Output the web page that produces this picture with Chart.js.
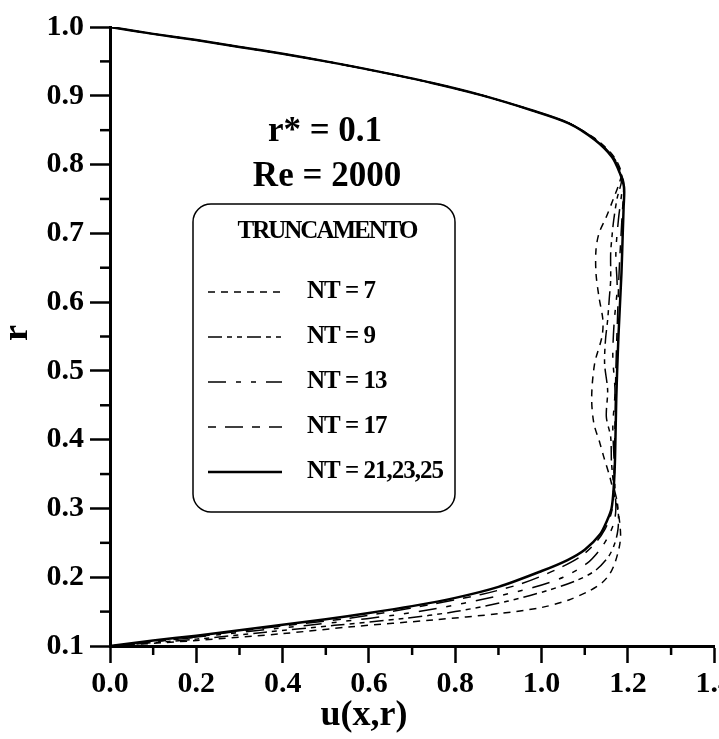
<!DOCTYPE html>
<html>
<head>
<meta charset="utf-8">
<script src="https://cdn.jsdelivr.net/npm/chart.js@4.4.0/dist/chart.umd.min.js"></script>
<style>
  html, body { margin: 0; padding: 0; background: #fff; overflow: hidden; }
  #wrap { width: 736px; height: 739px; }
</style>
</head>
<body>
<div id="wrap"><canvas id="chart"></canvas></div>
<script>
// trecho superior comum a todas as curvas (r de 1.0 a 0.86)
const rTopo = [1.0, 0.99, 0.981, 0.971, 0.961, 0.95, 0.938, 0.919, 0.901, 0.879, 0.86];
const uTopo = [0, 0.1, 0.2, 0.3, 0.4, 0.5, 0.6, 0.744, 0.86, 0.977, 1.063];

// NT = 7
const rNT7 = [0.836, 0.811, 0.788, 0.775, 0.748, 0.724, 0.70, 0.676, 0.642, 0.607, 0.574, 0.55, 0.511, 0.462, 0.424, 0.395, 0.375, 0.346, 0.32, 0.30, 0.279, 0.26, 0.244, 0.221, 0.205, 0.192, 0.18, 0.167, 0.156, 0.147, 0.138, 0.128, 0.118, 0.108, 0.1];
const uNT7 = [1.128, 1.168, 1.185, 1.181, 1.165, 1.15, 1.133, 1.126, 1.126, 1.133, 1.142, 1.14, 1.123, 1.116, 1.121, 1.135, 1.144, 1.158, 1.168, 1.176, 1.181, 1.183, 1.18, 1.17, 1.158, 1.14, 1.11, 1.063, 1.0, 0.9, 0.75, 0.56, 0.4, 0.2, 0];

// NT = 9
const rNT9 = [0.836, 0.811, 0.788, 0.775, 0.751, 0.719, 0.695, 0.671, 0.632, 0.607, 0.574, 0.545, 0.51, 0.472, 0.433, 0.404, 0.366, 0.33, 0.31, 0.29, 0.27, 0.25, 0.23, 0.21, 0.195, 0.18, 0.165, 0.15, 0.14, 0.13, 0.12, 0.11, 0.1];
const uNT9 = [1.126, 1.166, 1.184, 1.185, 1.175, 1.167, 1.163, 1.16, 1.16, 1.157, 1.153, 1.148, 1.146, 1.153, 1.15, 1.16, 1.162, 1.168, 1.175, 1.178, 1.177, 1.17, 1.155, 1.125, 1.08, 1.01, 0.92, 0.8, 0.68, 0.52, 0.36, 0.2, 0];

// NT = 13
const rNT13 = [0.836, 0.811, 0.788, 0.775, 0.72, 0.67, 0.62, 0.57, 0.52, 0.47, 0.42, 0.37, 0.33, 0.30, 0.28, 0.26, 0.24, 0.22, 0.20, 0.185, 0.17, 0.155, 0.145, 0.135, 0.125, 0.113, 0.1];
const uNT13 = [1.125, 1.165, 1.183, 1.188, 1.178, 1.172, 1.175, 1.168, 1.165, 1.17, 1.165, 1.168, 1.17, 1.172, 1.168, 1.155, 1.135, 1.105, 1.05, 0.98, 0.88, 0.76, 0.66, 0.53, 0.38, 0.2, 0];

// NT = 17
const rNT17 = [0.836, 0.811, 0.788, 0.775, 0.72, 0.65, 0.58, 0.50, 0.42, 0.35, 0.31, 0.29, 0.27, 0.25, 0.23, 0.21, 0.19, 0.175, 0.16, 0.15, 0.14, 0.13, 0.12, 0.11, 0.1];
const uNT17 = [1.124, 1.164, 1.182, 1.19, 1.186, 1.18, 1.176, 1.172, 1.17, 1.168, 1.166, 1.16, 1.147, 1.125, 1.09, 1.03, 0.95, 0.86, 0.74, 0.65, 0.55, 0.41, 0.28, 0.16, 0];

// NT = 21,23,25 (convergida)
const rNT21 = [0.836, 0.811, 0.788, 0.767, 0.738, 0.70, 0.642, 0.55, 0.46, 0.37, 0.33, 0.30, 0.283, 0.262, 0.24, 0.225, 0.209, 0.186, 0.170, 0.158, 0.148, 0.139, 0.131, 0.123, 0.115, 0.108, 0.1];
const uNT21 = [1.123, 1.163, 1.181, 1.191, 1.19, 1.188, 1.185, 1.178, 1.173, 1.17, 1.167, 1.162, 1.152, 1.135, 1.10, 1.06, 1.0, 0.9, 0.8, 0.7, 0.6, 0.5, 0.4, 0.3, 0.2, 0.1, 0];

const ticksX = [0.0, 0.2, 0.4, 0.6, 0.8, 1.0, 1.2, 1.4];
const ticksY = [0.1, 0.2, 0.3, 0.4, 0.5, 0.6, 0.7, 0.8, 0.9, 1.0];
const menoresX = [0.1, 0.3, 0.5, 0.7, 0.9, 1.1, 1.3];
const menoresY = [0.15, 0.25, 0.35, 0.45, 0.55, 0.65, 0.75, 0.85, 0.95];

const FONTE = "'Liberation Serif', 'Times New Roman', serif";

function pontos(r, u) {
  const rr = rTopo.concat(r);
  const uu = uTopo.concat(u);
  return rr.map((v, i) => ({ x: uu[i], y: v }));
}

function serie(label, r, u, dash, largura) {
  return {
    label: label,
    data: pontos(r, u),
    borderColor: '#000',
    borderWidth: largura,
    borderDash: dash,
    showLine: true,
    pointRadius: 0,
    tension: 0.3,
    fill: false
  };
}

// tiques menores, textos, titulos dos eixos e legenda
const extras = {
  id: 'extras',
  afterDraw(chart) {
    const ctx = chart.ctx;
    const sx = chart.scales.x, sy = chart.scales.y;
    ctx.save();
    ctx.strokeStyle = '#000';
    ctx.lineWidth = 2.5;
    menoresX.forEach(v => {
      const px = sx.getPixelForValue(v);
      ctx.beginPath(); ctx.moveTo(px, sy.bottom); ctx.lineTo(px, sy.bottom + 9); ctx.stroke();
    });
    menoresY.forEach(v => {
      const py = sy.getPixelForValue(v);
      ctx.beginPath(); ctx.moveTo(sx.left, py); ctx.lineTo(sx.left - 10, py); ctx.stroke();
    });

    ctx.fillStyle = '#000';
    ctx.textAlign = 'center';
    ctx.textBaseline = 'middle';
    ctx.font = 'bold 35px ' + FONTE;
    ctx.letterSpacing = '0px';
    ctx.fillText('r* = 0.1', 325, 132);
    ctx.fillText('Re = 2000', 327, 177);

    // titulos dos eixos
    ctx.font = 'bold 36px ' + FONTE;
    ctx.fillText('u(x,r)', 364, 716);
    ctx.save();
    ctx.translate(18, 333);
    ctx.rotate(-Math.PI / 2);
    ctx.fillText('r', 0, 0);
    ctx.restore();

    // legenda
    ctx.lineWidth = 1.5;
    ctx.beginPath();
    ctx.roundRect(193, 204, 262, 308, 18);
    ctx.stroke();
    ctx.font = 'bold 25px ' + FONTE;
    ctx.letterSpacing = '-2px';
    ctx.fillText('TRUNCAMENTO', 327, 232);
    ctx.textAlign = 'left';
    ctx.font = 'bold 25px ' + FONTE;
    ctx.letterSpacing = '-1px';
    chart.data.datasets.forEach((ds, i) => {
      const y = 292 + i * 45;
      ctx.lineWidth = ds.borderWidth;
      ctx.setLineDash(ds.borderDash);
      ctx.beginPath(); ctx.moveTo(208, y); ctx.lineTo(282, y); ctx.stroke();
      ctx.setLineDash([]);
      ctx.fillText(ds.label, 307, y);
    });
    ctx.restore();
  }
};

const ctx = document.getElementById('chart').getContext('2d');

const chart = new Chart(ctx, {
  type: 'scatter',
  data: {
    datasets: [
      serie('NT = 7', rNT7, uNT7, [7, 6], 1.5),
      serie('NT = 9', rNT9, uNT9, [14, 5, 5, 5, 5, 5], 1.5),
      serie('NT = 13', rNT13, uNT13, [18, 10, 5, 10, 5, 10], 1.5),
      serie('NT = 17', rNT17, uNT17, [8, 9, 18, 9], 1.5),
      serie('NT = 21,23,25', rNT21, uNT21, [], 2.5)
    ]
  },
  options: {
    responsive: true,
    maintainAspectRatio: false,
    animation: false,
    layout: { padding: { top: 27, right: 0, bottom: 0, left: 0 } },
    plugins: {
      legend: { display: false },
      tooltip: { enabled: false }
    },
    scales: {
      x: {
        type: 'linear',
        min: 0, max: 1.4,
        afterBuildTicks: s => { s.ticks = ticksX.map(v => ({ value: v })); },
        afterFit: s => { s.height = 93; },
        ticks: {
          color: '#000',
          padding: 3,
          font: { family: FONTE, size: 30, weight: 'bold' },
          callback: v => v.toFixed(1)
        },
        grid: { drawOnChartArea: false, tickLength: 17, tickWidth: 2.5, tickColor: '#000' },
        border: { display: true, width: 3, color: '#000' }
      },
      y: {
        type: 'linear',
        min: 0.1, max: 1.0,
        afterBuildTicks: s => { s.ticks = ticksY.map(v => ({ value: v })); },
        afterFit: s => { s.width = 110; },
        ticks: {
          color: '#000',
          padding: 6,
          font: { family: FONTE, size: 30, weight: 'bold' },
          callback: v => v.toFixed(1)
        },
        grid: { drawOnChartArea: false, tickLength: 20, tickWidth: 2.5, tickColor: '#000' },
        border: { display: true, width: 3, color: '#000' }
      }
    }
  },
  plugins: [extras]
});
</script>
</body>
</html>
